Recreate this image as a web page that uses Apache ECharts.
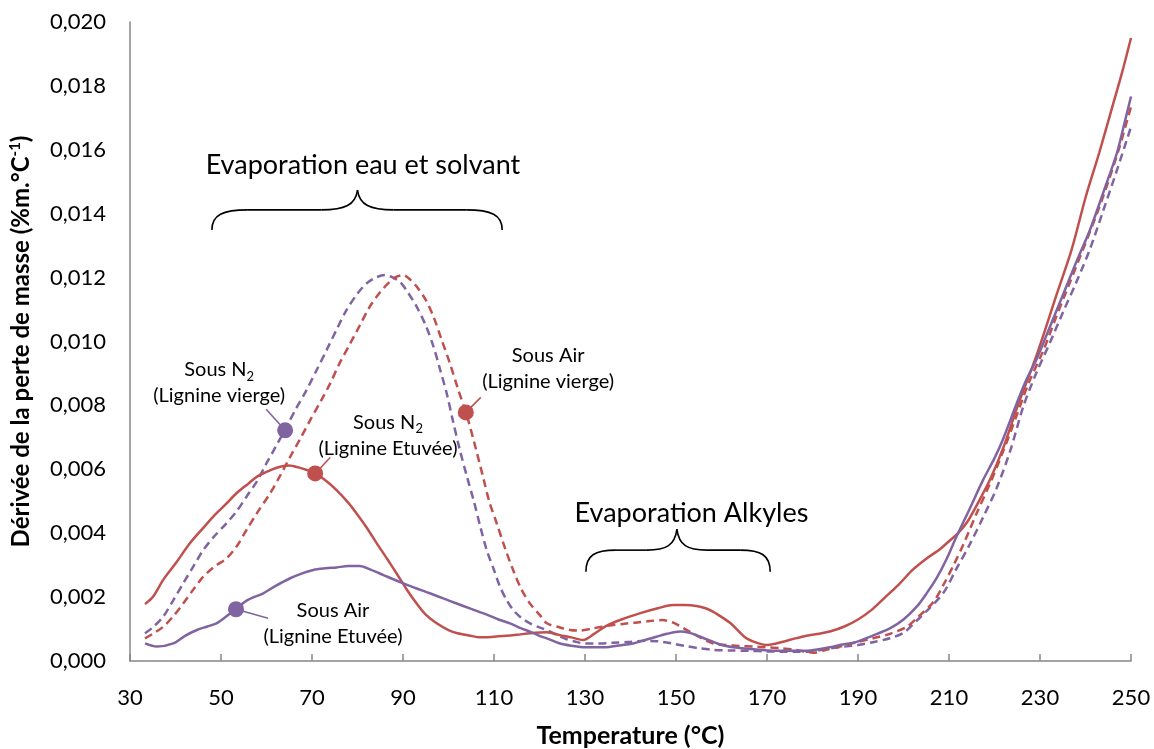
<!DOCTYPE html>
<html>
<head>
<meta charset="utf-8">
<script src="https://cdn.jsdelivr.net/npm/echarts@6/dist/echarts.min.js"></script>
<title>DTG lignine</title>
<style>body{margin:0;background:#fff}</style>
</head>
<body>
<div id="main" style="width:1154px;height:749px;"></div>
<script type="text/javascript">
var RED = '#C0504D', PURPLE = '#8064A2';
var FONT = 'Lato';

// [température (°C), dérivée (%m.°C-1)]
var n2Etuvee = [
  [33.3, 0.00178], [35, 0.00200], [37.3, 0.00254], [40, 0.00305], [43.2, 0.00369], [46, 0.00415],
  [48.3, 0.00452], [51, 0.00490], [53.4, 0.00525], [56, 0.00555], [58, 0.00578], [61, 0.00598],
  [63, 0.00608], [65, 0.00612], [67, 0.00606], [69, 0.00597], [70.7, 0.00587], [73, 0.00565],
  [75.4, 0.00535], [78, 0.00495], [79.8, 0.00462], [82, 0.00418], [84.2, 0.00369], [86.5, 0.00320],
  [88.6, 0.00274], [91, 0.00220], [93, 0.00180], [95, 0.00145], [97.4, 0.00118], [100, 0.00097],
  [102, 0.00087], [104.5, 0.00080], [107, 0.00074], [110, 0.00076], [112, 0.00078], [115, 0.00082],
  [118, 0.00087], [121.6, 0.00090], [124.5, 0.00081], [127, 0.00074], [129.6, 0.00066], [132, 0.00085],
  [134.7, 0.00110], [138, 0.00130], [142, 0.00149], [146, 0.00165], [149.4, 0.00175], [152, 0.00175],
  [154.5, 0.00172], [156.5, 0.00165], [158.2, 0.00154], [160, 0.00138], [162, 0.00118], [164, 0.00090],
  [165.5, 0.00071], [168, 0.00056], [170, 0.00050], [172, 0.00055], [174, 0.00062], [176, 0.00070],
  [179, 0.00080], [182, 0.00087], [184, 0.00093], [187, 0.00108], [190, 0.00130], [193, 0.00160],
  [196, 0.00200], [199, 0.00240], [202, 0.00285], [205, 0.00320], [208, 0.00350], [210, 0.00375],
  [212, 0.00400], [214, 0.00435], [216, 0.00485], [219, 0.00567], [222, 0.00670], [225, 0.00795],
  [229.3, 0.00959], [233.7, 0.01149], [237, 0.01290], [240, 0.01450], [243, 0.01590], [246, 0.01740],
  [248, 0.01840], [250, 0.01950]
];
var airEtuvee = [
  [33.3, 0.00055], [35.9, 0.00045], [39.5, 0.00055], [42, 0.00078], [44.7, 0.00097], [47, 0.00108],
  [49, 0.00118], [51, 0.00138], [53.4, 0.00165], [56, 0.00192], [59.3, 0.00212], [62, 0.00235],
  [65.2, 0.00259], [68, 0.00275], [70.3, 0.00285], [73, 0.00290], [75.4, 0.00293], [78, 0.00297],
  [80.5, 0.00297], [83, 0.00285], [85.7, 0.00269], [88, 0.00255], [90.1, 0.00243], [93, 0.00227],
  [95.9, 0.00212], [99, 0.00195], [101.8, 0.00180], [105, 0.00163], [107.7, 0.00149], [111, 0.00130],
  [113.5, 0.00118], [116, 0.00102], [117.9, 0.00092], [120.1, 0.00078], [121.6, 0.00071], [124.5, 0.00055],
  [127, 0.00048], [130, 0.00043], [134.7, 0.00043], [137, 0.00048], [140.6, 0.00055], [143, 0.00065],
  [145.7, 0.00076], [148, 0.00085], [150.9, 0.00092], [153, 0.00088], [154.5, 0.00081], [156, 0.00072],
  [158.2, 0.00060], [160, 0.00050], [162.6, 0.00043], [165, 0.00039], [167.7, 0.00036], [172.8, 0.00032],
  [178.7, 0.00032], [181, 0.00036], [183.8, 0.00043], [186, 0.00050], [189.7, 0.00060], [193, 0.00078],
  [197, 0.00102], [200, 0.00130], [202.9, 0.00170], [205, 0.00210], [207.3, 0.00260], [209.5, 0.00320],
  [211.7, 0.00391], [214.5, 0.00475], [217.5, 0.00567], [220, 0.00635], [221.9, 0.00695], [224.9, 0.00807],
  [227, 0.00880], [229.3, 0.00946], [232, 0.01040], [235.1, 0.01148], [238, 0.01250], [241, 0.01350],
  [244, 0.01470], [246.9, 0.01590], [248.5, 0.01680], [250, 0.01767]
];
var n2Vierge = [
  [33.3, 0.00087], [35, 0.00105], [37.3, 0.00139], [39.5, 0.00190], [41.7, 0.00243], [44, 0.00298],
  [46.1, 0.00347], [48.5, 0.00390], [51.2, 0.00431], [53.5, 0.00470], [55.6, 0.00514], [58, 0.00565],
  [60, 0.00619], [62, 0.00670], [64.4, 0.00733], [66.5, 0.00790], [68.8, 0.00848], [71, 0.00910],
  [73.2, 0.00973], [75.5, 0.01040], [77.6, 0.01099], [80, 0.01150], [82, 0.01182], [84, 0.01200],
  [86, 0.01208], [87.5, 0.01202], [89.3, 0.01187], [91, 0.01155], [93, 0.01109], [95, 0.01050],
  [96.7, 0.00984], [98.2, 0.00910], [99.6, 0.00838], [101, 0.00750], [102.5, 0.00660], [104, 0.00580],
  [105.5, 0.00504], [107, 0.00420], [108.4, 0.00347], [110, 0.00285], [111.3, 0.00233], [112.8, 0.00190],
  [114.2, 0.00160], [116, 0.00135], [117.9, 0.00118], [120, 0.00105], [121.6, 0.00097], [124, 0.00080],
  [126, 0.00068], [128, 0.00060], [130, 0.00055], [133, 0.00055], [136, 0.00057], [140, 0.00060],
  [143, 0.00063], [146, 0.00062], [149, 0.00055], [152, 0.00047], [155, 0.00040], [158, 0.00035],
  [162, 0.00033], [166, 0.00032], [170, 0.00030], [174, 0.00029], [177, 0.00029], [180, 0.00030],
  [184, 0.00040], [187, 0.00045], [190, 0.00050], [193, 0.00058], [197, 0.00071], [200, 0.00088],
  [202.9, 0.00126], [205, 0.00155], [208.8, 0.00214], [211.5, 0.00285], [214.6, 0.00366], [217.5, 0.00450],
  [220.5, 0.00542], [223.5, 0.00660], [226.3, 0.00795], [229, 0.00895], [232.2, 0.00997], [235, 0.01090],
  [238, 0.01186], [241, 0.01290], [243.9, 0.01410], [247, 0.01540], [250, 0.01672]
];
var airVierge = [
  [33.3, 0.00071], [35, 0.00085], [37.3, 0.00107], [39.5, 0.00140], [41.7, 0.00180], [44, 0.00225],
  [46.1, 0.00264], [48.5, 0.00295], [51.2, 0.00321], [53.5, 0.00360], [55.6, 0.00410], [58, 0.00465],
  [60.8, 0.00525], [63, 0.00580], [65.2, 0.00639], [67.5, 0.00698], [69.6, 0.00754], [72, 0.00815],
  [74, 0.00869], [76, 0.00930], [78.4, 0.00994], [80.5, 0.01050], [82.7, 0.01109], [85, 0.01155],
  [87.1, 0.01187], [88.5, 0.01202], [90.1, 0.01208], [91.5, 0.01195], [93, 0.01172], [95, 0.01130],
  [96.7, 0.01078], [98.5, 0.01005], [100.3, 0.00932], [102, 0.00855], [104, 0.00770], [106, 0.00665],
  [107.7, 0.00570], [109, 0.00497], [110.6, 0.00431], [112.5, 0.00350], [114.2, 0.00285], [116, 0.00225],
  [117.9, 0.00180], [120, 0.00145], [121.6, 0.00118], [124.5, 0.00105], [126.7, 0.00097], [128.8, 0.00095],
  [131.7, 0.00102], [135, 0.00110], [138.3, 0.00116], [141, 0.00120], [144.2, 0.00125], [147, 0.00128],
  [149.4, 0.00120], [151, 0.00108], [153, 0.00092], [155.5, 0.00072], [158.2, 0.00055], [161, 0.00050],
  [164, 0.00047], [167, 0.00045], [169.9, 0.00043], [173, 0.00040], [175.8, 0.00036], [178, 0.00030],
  [180.1, 0.00026], [183, 0.00035], [186, 0.00045], [190, 0.00060], [193.3, 0.00071], [197, 0.00085],
  [200.7, 0.00107], [203, 0.00135], [206.6, 0.00185], [208.8, 0.00239], [211, 0.00300], [213.2, 0.00366],
  [216, 0.00460], [219, 0.00555], [222, 0.00660], [224.9, 0.00770], [227.5, 0.00870], [230.7, 0.00971],
  [233.5, 0.01075], [236.6, 0.01186], [239.5, 0.01290], [242.5, 0.01400], [245, 0.01500], [247.5, 0.01610],
  [250, 0.01735]
];

// points repères posés sur les courbes
var markers = [
  [64.1, 0.00722, PURPLE],
  [70.7, 0.00587, RED],
  [103.8, 0.00778, RED],
  [53.3, 0.00162, PURPLE]
];

var chart = echarts.init(document.getElementById('main'));

function curve(data, color, dashed) {
  return {
    type: 'line',
    data: data,
    showSymbol: false,
    smooth: 0.3,
    silent: true,
    lineStyle: { color: color, width: 2.5, type: dashed ? [8, 5] : 'solid' },
    z: dashed ? 2 : 3
  };
}

var option = {
  animation: false,
  backgroundColor: '#fff',
  grid: { left: 130, right: 23, top: 22, bottom: 88, outerBoundsMode: 'none' },
  xAxis: {
    type: 'value',
    min: 30, max: 250, interval: 20,
    name: 'Temperature (°C)',
    nameLocation: 'middle',
    nameGap: 62,
    nameTextStyle: { fontFamily: FONT, fontWeight: 'bold', fontSize: 25, color: '#000' },
    axisLine: { lineStyle: { color: '#868686', width: 1.5 } },
    axisTick: { inside: true, length: 7, lineStyle: { color: '#868686', width: 1.5 } },
    axisLabel: { fontFamily: FONT, fontSize: 22, color: '#000', margin: 26 },
    splitLine: { show: false }
  },
  yAxis: {
    type: 'value',
    min: 0, max: 0.02, interval: 0.002,
    name: '{t|Dérivée de la perte de masse (%m.°C}{s|-1}{t|)}',
    nameLocation: 'middle',
    nameGap: 96,
    nameTextStyle: {
      rich: {
        t: { fontFamily: FONT, fontWeight: 'bold', fontSize: 24, color: '#000', lineHeight: 26 },
        s: { fontFamily: FONT, fontWeight: 'bold', fontSize: 15, color: '#000', verticalAlign: 'top', lineHeight: 14 }
      }
    },
    axisLine: { show: true, lineStyle: { color: '#868686', width: 1.5 } },
    axisTick: { show: false },
    axisLabel: {
      fontFamily: FONT, fontSize: 22, color: '#000', margin: 24,
      formatter: function (v) { return v.toFixed(3).replace('.', ','); }
    },
    splitLine: { show: false }
  },
  series: [
    curve(n2Etuvee, RED, false),
    curve(airEtuvee, PURPLE, false),
    curve(n2Vierge, PURPLE, true),
    curve(airVierge, RED, true),
    {
      type: 'scatter',
      symbolSize: 16,
      silent: true,
      z: 5,
      data: markers.map(function (m) {
        return { value: [m[0], m[1]], itemStyle: { color: m[2], opacity: 1 } };
      })
    }
  ]
};
chart.setOption(option);

// annotations (accolades, étiquettes, traits de rappel)
function toPx(x, y) { return chart.convertToPixel({ gridIndex: 0 }, [x, y]); }

var braceStyle = { fill: null, stroke: '#000', lineWidth: 1.6 };

function bez(x1, y1, c1x, c1y, c2x, c2y, x2, y2) {
  return { type: 'bezierCurve', z: 10, style: braceStyle,
    shape: { x1: x1, y1: y1, cpx1: c1x, cpy1: c1y, cpx2: c2x, cpy2: c2y, x2: x2, y2: y2 } };
}
function seg(x1, y1, x2, y2) {
  return { type: 'line', z: 10, style: braceStyle, shape: { x1: x1, y1: y1, x2: x2, y2: y2 } };
}

function brace(xl, xr, xt, yEnd, yMid, yTip, r) {
  var a = toPx(xl, yEnd), b = toPx(xr, yEnd), t = toPx(xt, yTip), m = toPx(xt, yMid);
  var L = a[0], R = b[0], E = a[1], M = m[1], T = t[0], Y = t[1];
  return [
    bez(L, E, L, M + 5, L + r * 0.3, M, L + r, M),
    seg(L + r, M, T - r, M),
    bez(T - r, M, T - r * 0.35, M, T - 2, M - 5, T, Y),
    bez(T, Y, T + 2, M - 5, T + r * 0.35, M, T + r, M),
    seg(T + r, M, R - r, M),
    bez(R - r, M, R - r * 0.3, M, R, M + 5, R, E)
  ];
}

function label(x, y, text, size) {
  var p = toPx(x, y);
  return {
    type: 'text', x: p[0], y: p[1], z: 10,
    style: {
      text: text, align: 'center', verticalAlign: 'middle',
      fill: '#000', fontFamily: FONT, fontSize: size,
      rich: {
        a: { fontFamily: FONT, fontSize: size, lineHeight: 26, fill: '#000' },
        s: { fontFamily: FONT, fontSize: 13, lineHeight: 13, verticalAlign: 'bottom', fill: '#000' }
      }
    }
  };
}

function leader(m, dx, dy) {
  var p = toPx(m[0], m[1]);
  return {
    type: 'line', z: 4,
    shape: { x1: p[0], y1: p[1], x2: p[0] + dx, y2: p[1] + dy },
    style: { stroke: m[2], lineWidth: 1.6 }
  };
}

var graphics = []
  .concat(brace(48.0, 111.8, 80.0, 0.01349, 0.01412, 0.01474, 36))
  .concat(brace(130.2, 170.7, 150.2, 0.00279, 0.00347, 0.00413, 30))
  .concat([
    label(81.2, 0.01552, 'Evaporation eau et solvant', 27),
    label(153.4, 0.00463, 'Evaporation Alkyles', 27),
    label(49.6, 0.00870, '{a|Sous N}{s|2}\n{a|(Lignine vierge)}', 20),
    label(86.7, 0.00706, '{a|Sous N}{s|2}\n{a|(Lignine Etuvée)}', 20),
    label(121.9, 0.00914, '{a|Sous Air}\n{a|(Lignine vierge)}', 20),
    label(74.6, 0.00117, '{a|Sous Air}\n{a|(Lignine Etuvée)}', 20),
    leader(markers[0], -19, -21),
    leader(markers[1], 15, -16),
    leader(markers[2], 15, -15),
    leader(markers[3], 32, 9)
  ]);
chart.setOption({ graphic: graphics });
</script>
</body>
</html>
